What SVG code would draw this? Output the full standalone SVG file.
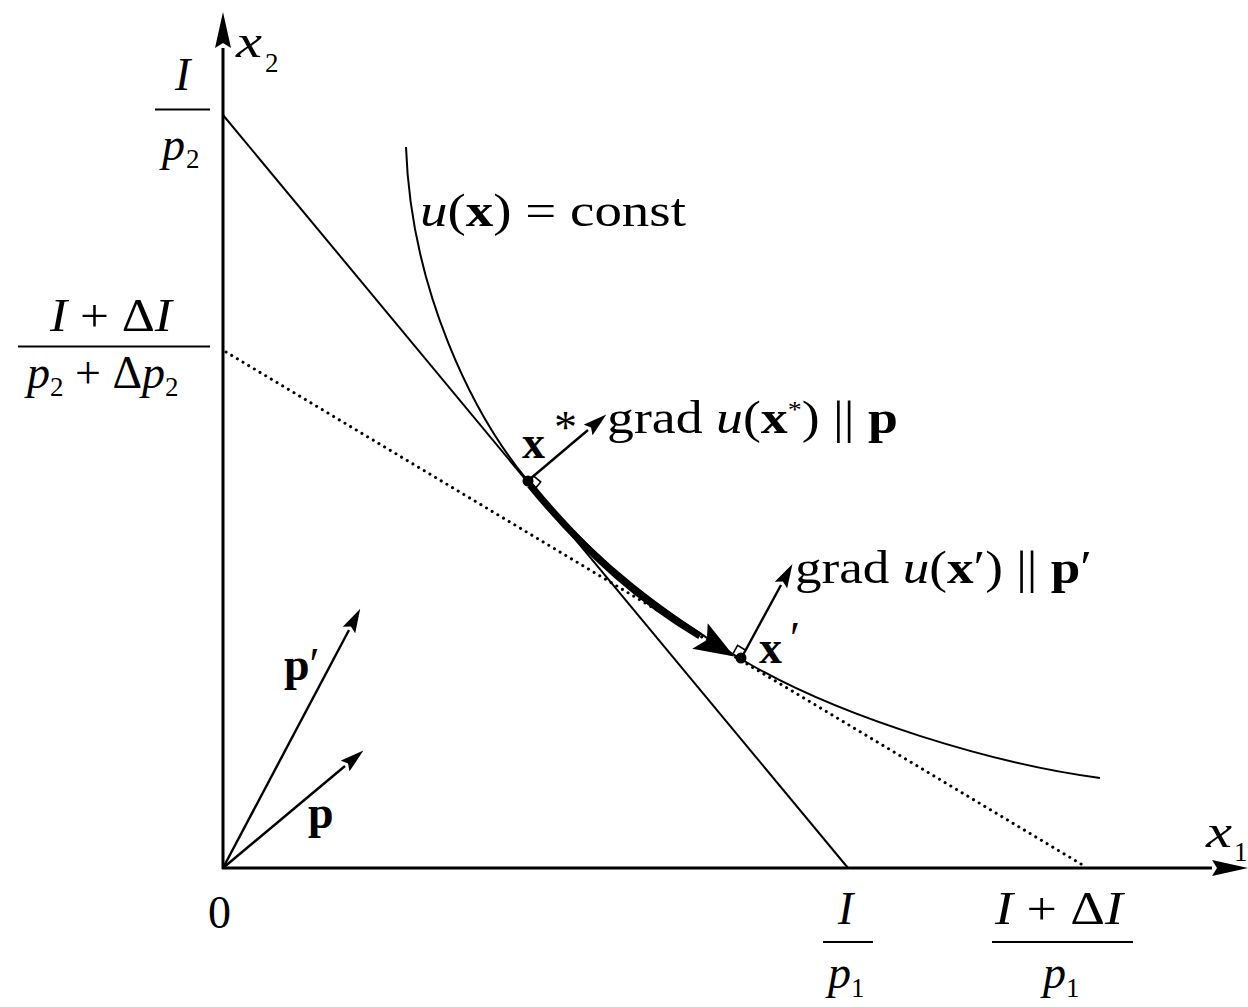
<svg xmlns="http://www.w3.org/2000/svg" width="1248" height="1007" viewBox="0 0 1248 1007">
<style>
.ax{stroke:#000;stroke-width:3;fill:none}
.ln{stroke:#000;stroke-width:2;fill:none}
.dt{stroke:#000;stroke-width:3;fill:none;stroke-dasharray:0.1 6.5;stroke-linecap:round}
.vec{stroke:#000;stroke-width:2.4;fill:none}
.thick{stroke:#000;stroke-width:7;fill:none}
.t{font-family:"Liberation Serif","DejaVu Serif",serif;font-size:46px;fill:#000}
.i{font-style:italic}
.b{font-weight:bold}
.s{font-size:27px}
.fr{stroke:#000;stroke-width:2}
</style>
<defs>
<marker id="axh" markerUnits="userSpaceOnUse" markerWidth="36" markerHeight="16" viewBox="0 0 36 16" refX="0" refY="8" orient="auto">
<path d="M0,0 L36,8 L0,16 L5,8 Z" fill="#000"/>
</marker>
<marker id="vh" markerUnits="userSpaceOnUse" markerWidth="24" markerHeight="14" viewBox="0 0 24 14" refX="0" refY="7" orient="auto">
<path d="M0,0 L24,7 L0,14 L4,7 Z" fill="#000"/>
</marker>
<marker id="th" markerUnits="userSpaceOnUse" markerWidth="40" markerHeight="30" viewBox="0 0 40 30" refX="0" refY="15" orient="auto">
<path d="M0,0 L40,15 L0,30 L8,15 Z" fill="#000"/>
</marker>
</defs>
<rect width="1248" height="1007" fill="#fff"/>

<g id="connectors">
<line class="ax" x1="223" y1="869" x2="223" y2="48" marker-end="url(#axh)"/>
<line class="ax" x1="222" y1="868" x2="1212" y2="868" marker-end="url(#axh)"/>
<line class="ln" x1="223" y1="115" x2="848" y2="868"/>
<line class="dt" x1="226" y1="352" x2="1086" y2="867"/>
<path class="ln" d="M406,147 C411,290 473,415 528,481 C598,565 666,614 741,659 C841,719 1000,765 1100,778"/>
<path class="thick" d="M530,485 C590,558 645,603 700,636" marker-end="url(#th)"/>
<line class="vec" x1="530" y1="479" x2="588" y2="430" marker-end="url(#vh)"/>
<line class="vec" x1="743" y1="655" x2="781" y2="585" marker-end="url(#vh)"/>
<line class="vec" x1="223" y1="868" x2="349" y2="630" marker-end="url(#vh)"/>
<line class="vec" x1="223" y1="868" x2="345" y2="766" marker-end="url(#vh)"/>
</g>

<g id="xstar">
<circle cx="528" cy="481" r="5.5" fill="#000"/>
<path d="M533.8,476.2 L540.7,481.9 L535,488.8 L528,483" fill="none" stroke="#000" stroke-width="1.6"/>
<text class="t b" x="522" y="458" font-size="44">x</text>
<text class="t" x="554" y="443" font-size="19">*</text>
</g>

<g id="xprime">
<circle cx="741" cy="658" r="5.5" fill="#000"/>
<path d="M745.3,650 L737.6,645.4 L733.3,653.2" fill="none" stroke="#000" stroke-width="1.6"/>
<text class="t b" x="759" y="663" font-size="44">x</text>
<text class="t" x="790" y="654" font-size="32">′</text>
</g>

<g id="label-curve">
<text class="t" x="420" y="226" textLength="266" lengthAdjust="spacingAndGlyphs"><tspan class="i">u</tspan>(<tspan class="b">x</tspan>) = const</text>
</g>

<g id="label-grad1">
<text class="t" x="607" y="433" textLength="291" lengthAdjust="spacingAndGlyphs">grad <tspan class="i">u</tspan>(<tspan class="b">x</tspan><tspan font-size="24" dy="-16">*</tspan><tspan dy="16">) || </tspan><tspan class="b">p</tspan></text>
</g>

<g id="label-grad2">
<text class="t" x="795" y="583" textLength="297" lengthAdjust="spacingAndGlyphs">grad <tspan class="i">u</tspan>(<tspan class="b">x</tspan>′) || <tspan class="b">p</tspan>′</text>
</g>

<g id="vec-p">
<text class="t b" x="308" y="828">p</text>
</g>
<g id="vec-pprime">
<text class="t b" x="284" y="680">p<tspan font-weight="normal">′</tspan></text>
</g>

<g id="axis-x2">
<text class="t i" x="236" y="57" font-size="48" textLength="26" lengthAdjust="spacingAndGlyphs">x</text>
<text class="t s" x="265" y="72">2</text>
</g>
<g id="axis-x1">
<text class="t i" x="1206" y="847" font-size="48" textLength="26" lengthAdjust="spacingAndGlyphs">x</text>
<text class="t s" x="1234" y="861">1</text>
</g>
<g id="origin">
<text class="t" x="208" y="928">0</text>
</g>

<g id="frac-I-p2">
<text class="t i" x="175" y="90">I</text>
<line class="fr" x1="155" y1="109.5" x2="210" y2="109.5"/>
<text class="t i" x="162" y="160">p</text>
<text class="t s" x="186" y="168">2</text>
</g>

<g id="frac-IdI-p2dp2">
<text class="t" x="50" y="331" textLength="122" lengthAdjust="spacingAndGlyphs"><tspan class="i">I</tspan> + Δ<tspan class="i">I</tspan></text>
<line class="fr" x1="18" y1="346.5" x2="210" y2="346.5"/>
<text class="t" x="27" y="388"><tspan class="i">p</tspan><tspan class="s" dy="8">2</tspan><tspan dy="-8"> + Δ</tspan><tspan class="i">p</tspan><tspan class="s" dy="8">2</tspan></text>
</g>

<g id="frac-I-p1">
<text class="t i" x="838" y="924">I</text>
<line class="fr" x1="823" y1="942" x2="873" y2="942"/>
<text class="t i" x="828" y="988">p</text>
<text class="t s" x="851" y="997">1</text>
</g>

<g id="frac-IdI-p1">
<text class="t" x="995" y="924" textLength="128" lengthAdjust="spacingAndGlyphs"><tspan class="i">I</tspan> + Δ<tspan class="i">I</tspan></text>
<line class="fr" x1="992" y1="942" x2="1133" y2="942"/>
<text class="t i" x="1043" y="988">p</text>
<text class="t s" x="1066" y="997">1</text>
</g>
</svg>
